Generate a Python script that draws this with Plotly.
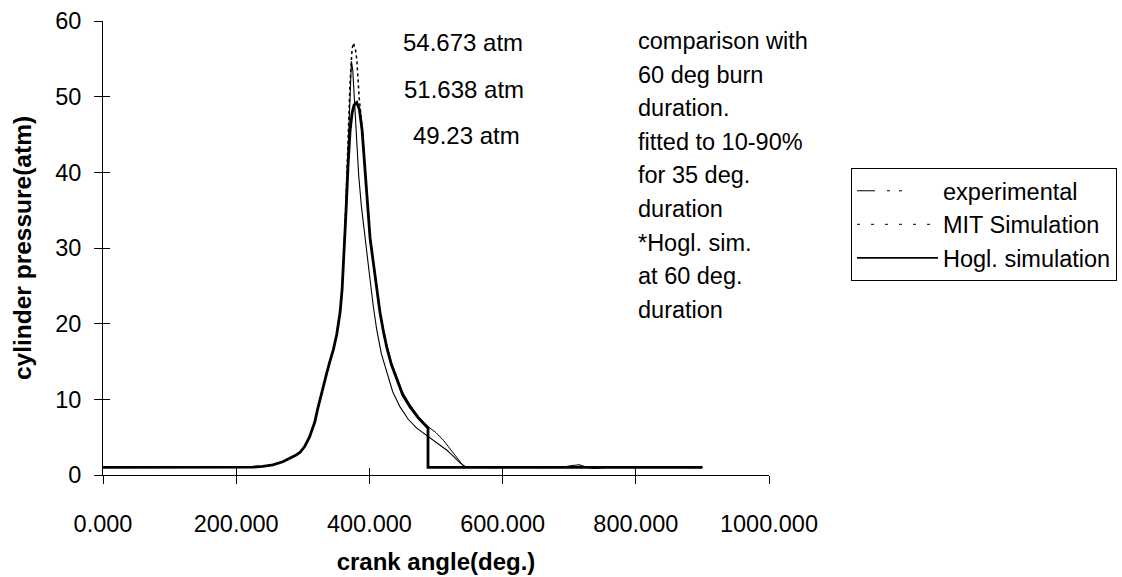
import numpy as np
import plotly.graph_objects as go

# ---------------- data ----------------
rise_x = [0, 100, 200, 225, 240, 255, 270, 281, 290, 296, 303, 310, 318, 322, 326, 330,
          336, 341, 346, 351, 356, 359]
rise_y = [1.0, 1.0, 1.0, 1.05, 1.15, 1.35, 1.75, 2.2, 2.65, 3.0, 3.8, 5.0, 7.0, 8.6, 10.1, 11.5,
          13.5, 15.1, 16.6, 18.6, 21.5, 24.5]

hogl_x = rise_x + [362, 365, 368, 371, 374, 377, 381, 385, 389, 392, 395, 398,
                   401, 406, 411, 416, 421, 426, 433, 441, 450, 461, 474, 488, 488, 550, 700, 900]
hogl_y = rise_y + [29.0, 35.0, 41.0, 45.5, 47.8, 48.9, 49.23, 48.3, 45.6, 42.0, 38.0, 34.5,
                   31.3, 28.0, 24.6, 21.4, 19.0, 16.9, 14.6, 12.6, 10.6, 9.0, 7.5, 6.2, 1.0, 1.0, 1.0, 1.0]

exp_x = rise_x + [362, 365, 368, 371, 373, 375, 377, 380, 384, 388, 393, 397,
                  401, 406, 411, 418, 426, 435, 446, 458, 471, 485, 496, 506, 516, 526, 536, 546,
                  560, 580, 600, 630, 660, 690, 705, 715, 725, 735, 745, 760, 800, 850, 880, 900]
exp_y = rise_y + [29.5, 36.0, 43.0, 50.0, 54.673, 53.5, 50.5, 45.0, 39.5, 35.5, 31.5, 28.3,
                  25.8, 22.2, 19.2, 16.0, 13.5, 11.0, 9.0, 7.4, 6.2, 5.3, 4.6, 4.0, 3.3, 2.5, 1.6, 1.0,
                  1.05, 0.95, 1.0, 1.05, 0.95, 1.05, 1.25, 1.35, 1.1, 0.85, 0.9, 1.05, 1.0, 1.05, 0.95, 1.0]

mit_x = rise_x + [362, 365, 368, 371, 374, 376, 379, 381, 383, 385, 389, 392,
                  395, 398, 401, 406, 411, 416, 421, 426, 433, 441, 450, 461, 474, 488, 500, 511,
                  521, 531, 537, 543, 600, 900]
mit_y = rise_y + [29.5, 37.0, 45.0, 52.0, 56.3, 57.1, 56.2, 55.0, 52.2, 49.5, 46.0, 42.5,
                  38.5, 35.0, 31.7, 28.3, 24.9, 21.7, 19.3, 17.2, 14.9, 12.9, 10.9, 9.3, 7.7, 6.4, 5.6, 4.6,
                  3.5, 2.4, 1.6, 1.0, 1.0, 1.0]

peak_labels = ["54.673 atm", "51.638 atm", "49.23 atm"]
comment_lines = ["comparison with", "60 deg burn", "duration.", "fitted to 10-90%",
                 "for 35 deg.", "duration", "*Hogl. sim.", "at 60 deg.", "duration"]
series_names = ["experimental", "MIT Simulation", "Hogl. simulation"]

x_ticks = [0, 200, 400, 600, 800, 1000]
y_ticks = [0, 10, 20, 30, 40, 50, 60]

# ---------------- figure ----------------
FONT = "Liberation Sans, Arial, sans-serif"
FS = 23.5
W, H = 1122, 577
fig = go.Figure()

# MIT: dotted near the peak, visually solid elsewhere
mx = np.array(mit_x, dtype=float)
my = np.array(mit_y, dtype=float)
peak_mask = (mx >= 362) & (mx <= 395)
solid_y = np.where((mx > 362) & (mx < 395), np.nan, my)
fig.add_trace(go.Scatter(x=mx, y=solid_y, mode="lines", showlegend=False,
                         line=dict(color="black", width=1), connectgaps=False))
fig.add_trace(go.Scatter(x=mx[peak_mask], y=my[peak_mask], mode="lines", showlegend=False,
                         line=dict(color="black", width=1.5, dash="dot")))
# experimental: thin line
fig.add_trace(go.Scatter(x=exp_x, y=exp_y, mode="lines", showlegend=False,
                         line=dict(color="black", width=1.1)))
# Hogl: thick line
fig.add_trace(go.Scatter(x=hogl_x, y=hogl_y, mode="lines", showlegend=False,
                         line=dict(color="black", width=2.8)))

# legend entries
legend_styles = [dict(color="black", width=1, dash="18px,12px,3px,9px,3px,40px"),
                 dict(color="black", width=1, dash="3px,11px"),
                 dict(color="black", width=1.6)]
for name, st in zip(series_names, legend_styles):
    fig.add_trace(go.Scatter(x=[None], y=[None], mode="lines", name=name, line=st))

# cross ticks: overlay axes with inside ticks
fig.add_trace(go.Scatter(x=[None], y=[None], xaxis="x2", yaxis="y2", showlegend=False))

# peak labels
label_pos = [(541, 57.1), (542, 50.9), (546, 44.9)]
for t, (px, py) in zip(peak_labels, label_pos):
    fig.add_annotation(x=px, y=py, text=t, showarrow=False, xanchor="center", yanchor="middle",
                       font=dict(family=FONT, size=24, color="black"))

# comment block
for i, t in enumerate(comment_lines):
    fig.add_annotation(x=(636 - 103) / 666, y=1 - (41 + 33.6 * i - 21) / 454, xref="paper",
                       yref="paper", text=t, showarrow=False, xanchor="left", yanchor="middle",
                       font=dict(family=FONT, size=FS, color="black"))

axis_common = dict(showgrid=False, zeroline=False, showline=True, linecolor="black",
                   linewidth=1, ticks="outside", ticklen=8, tickcolor="black", tickwidth=1,
                   automargin=False, tickfont=dict(family=FONT, size=FS, color="black"))

fig.update_layout(
    width=W, height=H,
    margin=dict(l=103, r=353, t=21, b=102, pad=0, autoexpand=False),
    paper_bgcolor="white", plot_bgcolor="white",
    font=dict(family=FONT, size=FS, color="black"),
    xaxis=dict(range=[0, 1000], tickvals=x_ticks, tickformat=".3f", ticklabelstandoff=20,
               title=dict(text="<b>crank angle(deg.)</b>", standoff=16,
                          font=dict(family=FONT, size=24, color="black")),
               **axis_common),
    yaxis=dict(range=[0, 60], tickvals=y_ticks, ticklabelstandoff=8,
               title=dict(text="<b>cylinder pressure(atm)</b>", standoff=16,
                          font=dict(family=FONT, size=24.5, color="black")),
               **axis_common),
    xaxis2=dict(range=[0, 1000], tickvals=x_ticks, overlaying="x", anchor="y2", side="bottom",
                showgrid=False, zeroline=False, showline=False, showticklabels=False,
                ticks="inside", ticklen=7, tickcolor="black", tickwidth=1, automargin=False),
    yaxis2=dict(range=[0, 60], tickvals=y_ticks, overlaying="y", anchor="x2", side="left",
                showgrid=False, zeroline=False, showline=False, showticklabels=False,
                ticks="inside", ticklen=7, tickcolor="black", tickwidth=1, automargin=False),
    legend=dict(x=851 / W, y=1 - 168 / H, xref="container", yref="container",
                xanchor="left", yanchor="top",
                bordercolor="black", borderwidth=1, bgcolor="white", itemwidth=81,
                font=dict(family=FONT, size=FS, color="black"), tracegroupgap=0),
    showlegend=True,
)

fig.write_html("out.html")
